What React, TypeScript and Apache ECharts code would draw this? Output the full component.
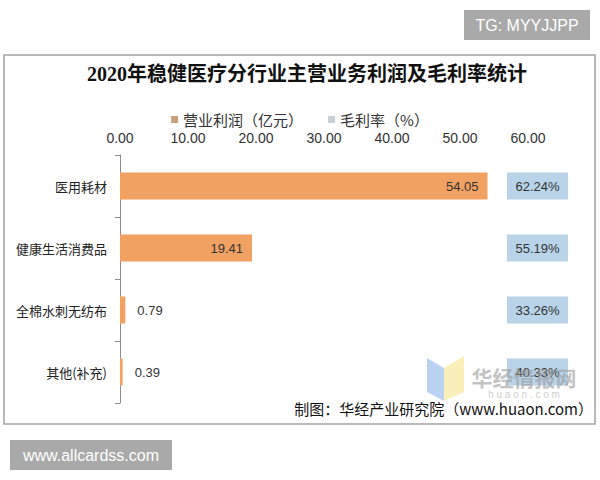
import React, { useEffect, useRef } from 'react';
import * as echarts from 'echarts';

const categories = ['医用耗材', '健康生活消费品', '全棉水刺无纺布', '其他(补充)'];
const profits = [54.05, 19.41, 0.79, 0.39];
const margins = [62.24, 55.19, 33.26, 40.33];
const axisMin = 0;
const axisMax = 60;
const axisInterval = 10;
const seriesNames = ['营业利润（亿元）', '毛利率（%）'];
const titleText = '2020年稳健医疗分行业主营业务利润及毛利率统计';
const sourceText = '制图：华经产业研究院（www.huaon.com）';

const FONT = '"Liberation Sans", "Noto Sans CJK SC", sans-serif';
const CJK = '"Noto Sans CJK SC", "Liberation Sans", sans-serif';
const TITLE_FONT = '"Liberation Serif", "Noto Sans CJK SC", serif';

export default function App() {
  const ref = useRef<HTMLDivElement>(null);
  useEffect(() => {
    if (!ref.current) return;
    const chart = echarts.init(ref.current, undefined, { renderer: 'svg' });
    const option: any = {
      animation: false,
      backgroundColor: '#ffffff',
      textStyle: { fontFamily: FONT },
      legend: {
        top: 107,
        left: 'center',
        icon: 'rect',
        itemWidth: 7,
        itemHeight: 7,
        itemGap: 25,
        textStyle: { fontSize: 15, color: '#333', fontFamily: CJK },
        data: [
          { name: seriesNames[0], itemStyle: { color: '#C9A07A' } },
          { name: seriesNames[1], itemStyle: { color: '#C4CFD8' } },
        ],
      },
      grid: [
        { left: 120, top: 155, width: 408, height: 248 },
        { left: 507, top: 155, width: 61, height: 248 },
      ],
      xAxis: [
        {
          type: 'value',
          gridIndex: 0,
          position: 'top',
          min: axisMin,
          max: axisMax,
          interval: axisInterval,
          axisLine: { show: false },
          axisTick: { show: false },
          splitLine: { show: false },
          axisLabel: {
            formatter: (v: number) => v.toFixed(2),
            fontSize: 14,
            color: '#333',
            margin: 10,
            fontFamily: FONT,
          },
        },
        { type: 'value', gridIndex: 1, min: 0, max: 1, show: false },
      ],
      yAxis: [
        {
          type: 'category',
          gridIndex: 0,
          data: categories,
          inverse: true,
          axisLine: { show: true, lineStyle: { color: '#8c8c8c' } },
          axisTick: { show: true, length: 5, lineStyle: { color: '#8c8c8c' } },
          axisLabel: { fontSize: 13, color: '#222', margin: 13, fontFamily: CJK },
        },
        { type: 'category', gridIndex: 1, data: categories, inverse: true, show: false },
      ],
      series: [
        {
          type: 'bar',
          name: seriesNames[0],
          xAxisIndex: 0,
          yAxisIndex: 0,
          barWidth: 27,
          itemStyle: { color: '#F1A262' },
          data: profits.map((v) => ({
            value: v,
            label: v > 5 ? { position: 'insideRight', distance: 9 } : { position: 'right', distance: 12 },
          })),
          label: {
            show: true,
            fontSize: 13,
            color: '#333',
            fontFamily: FONT,
            formatter: (p: any) => Number(p.value).toFixed(2),
          },
        },
        {
          type: 'custom',
          name: seriesNames[1],
          xAxisIndex: 1,
          yAxisIndex: 1,
          itemStyle: { color: '#B9D4E8' },
          encode: { x: 0, y: 1 },
          data: margins.map((m, i) => [0, i, m]),
          renderItem: (params: any, api: any) => {
            const pt = api.coord([0, api.value(1)]);
            const cs = params.coordSys;
            return {
              type: 'group',
              children: [
                {
                  type: 'rect',
                  shape: { x: cs.x, y: pt[1] - 13.5, width: cs.width, height: 27 },
                  style: { fill: '#B9D4E8' },
                },
                {
                  type: 'text',
                  style: {
                    text: Number(api.value(2)).toFixed(2) + '%',
                    x: cs.x + cs.width / 2,
                    y: pt[1],
                    align: 'center',
                    verticalAlign: 'middle',
                    fontSize: 13,
                    fill: '#333',
                    fontFamily: FONT,
                  },
                },
              ],
            };
          },
        },
      ],
      graphic: [
        {
          type: 'rect',
          shape: { x: 464, y: 10, width: 126, height: 30 },
          style: { fill: '#A9A9A9' },
        },
        {
          type: 'text',
          x: 527,
          y: 25,
          style: { text: 'TG: MYYJJPP', fill: '#fff', fontSize: 16, fontFamily: FONT, align: 'center', verticalAlign: 'middle' },
        },
        {
          type: 'rect',
          shape: { x: 4, y: 55, width: 591, height: 369 },
          style: { fill: 'none', stroke: '#A3A3A3', lineWidth: 1.5 },
        },
        {
          type: 'text',
          x: 307,
          y: 74,
          style: { text: titleText, fill: '#111', fontSize: 20, fontWeight: 'bold', fontFamily: TITLE_FONT, align: 'center', verticalAlign: 'middle' },
        },
        {
          type: 'polygon',
          z: 100,
          shape: { points: [[427, 358], [444, 368], [444, 401], [427, 392]] },
          style: { fill: '#A9C8F0', opacity: 0.8 },
        },
        {
          type: 'polygon',
          z: 100,
          shape: { points: [[444, 368], [464, 356], [464, 392], [444, 401]] },
          style: { fill: '#F8EBA8', opacity: 0.8 },
        },
        {
          type: 'text',
          z: 100,
          x: 524,
          y: 377,
          style: { text: '华经情报网', fill: '#9a9a9a', opacity: 0.6, fontSize: 21, fontWeight: 'bold', fontFamily: CJK, align: 'center', verticalAlign: 'middle' },
        },
        {
          type: 'text',
          z: 100,
          x: 524,
          y: 394,
          style: { text: 'h u a o n . c o m', fill: '#cfcfcf', fontSize: 10, fontFamily: FONT, align: 'center', verticalAlign: 'middle' },
        },
        {
          type: 'text',
          z: 101,
          x: 593,
          y: 408,
          style: { text: sourceText, fill: '#111', fontSize: 15, fontFamily: CJK, align: 'right', verticalAlign: 'middle' },
        },
        {
          type: 'rect',
          shape: { x: 10, y: 440, width: 162, height: 30 },
          style: { fill: '#A9A9A9' },
        },
        {
          type: 'text',
          x: 91,
          y: 455,
          style: { text: 'www.allcardss.com', fill: '#fff', fontSize: 16, fontFamily: FONT, align: 'center', verticalAlign: 'middle' },
        },
      ],
    };
    chart.setOption(option);
    return () => chart.dispose();
  }, []);
  return <div ref={ref} style={{ position: 'fixed', left: 0, top: 0, width: 600, height: 480 }} />;
}
